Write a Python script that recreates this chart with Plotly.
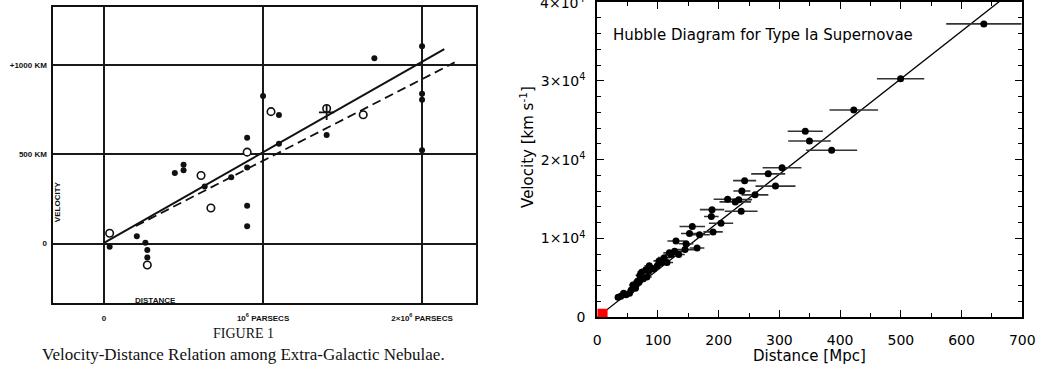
import plotly.graph_objects as go

# ---------------- Left panel: Hubble (1929) ----------------
hub_filled_d = [0.035, 0.206, 0.26, 0.272, 0.272, 0.445, 0.50, 0.50, 0.633, 0.80, 0.90, 0.90, 0.90, 0.90,
                1.00, 1.10, 1.10, 1.40, 1.70, 2.00, 2.00, 2.00, 2.00]
hub_filled_v = [-18, 41, 5, -35, -78, 396, 442, 411, 320, 372, 594, 427, 213, 98,
                827, 721, 560, 609, 1039, 1107, 840, 807, 523]
hub_open_d = [0.035, 0.272, 0.61, 0.672, 0.90, 1.05, 1.40, 1.63]
hub_open_v = [58, -120, 382, 200, 513, 740, 758, 723]
hub_cross_d = [1.40]
hub_cross_v = [736]
hub_solid_d = [0.0, 2.14]
hub_solid_v = [5, 1090]
hub_dash_d = [0.20, 2.205]
hub_dash_v = [99, 1016]
hub_xticks = [0, 1, 2]
hub_xlabels = ["0", "10<sup>6</sup> PARSECS", "2\u00d710<sup>6</sup> PARSECS"]
hub_yticks = [0, 500, 1000]
hub_ylabels = ["0", "500 KM", "+1000 KM"]

# ---------------- Right panel: Type Ia supernovae ----------------
sn_dist = [636.7, 499.6, 422.5, 342.6, 349.5, 386.0, 304.3, 281.5, 293.5, 242.7, 238.1, 259.8,
           214.7, 233.0, 227.3, 237.0, 189.0, 187.9, 203.8, 190.7, 156.5, 151.9, 168.4, 164.4,
           129.6, 146.2, 144.5, 134.2, 127.3,
           34.3, 38.8, 43.4, 47.4, 53.1, 56.0, 58.8, 60.5, 62.8, 64.5, 66.2, 68.5, 70.2, 73.1,
           75.9, 80.0, 81.7, 84.5, 85.7, 93.1, 98.8, 101.6, 106.2, 110.2, 114.8, 118.8, 121.6]
sn_vel = [37220, 30270, 26300, 23600, 22370, 21190, 18980, 18200, 16650, 17340, 16030, 15540,
          14970, 14930, 14640, 13460, 13660, 12800, 11940, 10840, 11530, 10630, 10470, 8790,
          9690, 9330, 8590, 7980, 8380,
          2540, 2660, 3070, 2860, 3070, 3480, 4090, 3890, 3680, 4170, 4580, 4420, 5320, 5730,
          4910, 6050, 5110, 5810, 6540, 6140, 6540, 7160, 6950, 7570, 6950, 8180, 7980]
sn_err = [62, 39, 40, 29, 35, 42, 32, 28, 33, 19, 14, 22,
          23, 22, 26, 27, 20, 12, 20, 16, 21, 14, 17, 12,
          14, 12, 15, 10, 11,
          5, 5, 5, 5, 6, 6, 6, 6, 6, 6, 7, 7, 7, 7,
          7, 8, 8, 8, 8, 9, 9, 9, 10, 10, 10, 10, 10]
sn_fit_d = [0, 700]
H0 = 60.5
sn_xticks = [0, 100, 200, 300, 400, 500, 600, 700]
sn_yticks = [0, 10000, 20000, 30000, 40000]
sn_ylabels = ["0", "1\u00d710<sup>4</sup>", "2\u00d710<sup>4</sup>", "3\u00d710<sup>4</sup>", "4\u00d710<sup>4</sup>"]
red_box = [17, 1100]

W, H = 1053, 374
fig = go.Figure()

# Hubble lines
fig.add_trace(go.Scatter(x=hub_solid_d, y=hub_solid_v, mode="lines", line=dict(color="#111", width=2),
                         xaxis="x", yaxis="y", showlegend=False))
fig.add_trace(go.Scatter(x=hub_dash_d, y=hub_dash_v, mode="lines",
                         line=dict(color="#111", width=1.8, dash="9px,5px"),
                         xaxis="x", yaxis="y", showlegend=False))
fig.add_trace(go.Scatter(x=hub_filled_d, y=hub_filled_v, mode="markers",
                         marker=dict(color="#111", size=6), xaxis="x", yaxis="y", showlegend=False))
fig.add_trace(go.Scatter(x=hub_open_d, y=hub_open_v, mode="markers",
                         marker=dict(color="white", size=7.5, line=dict(color="#111", width=1.6)),
                         xaxis="x", yaxis="y", showlegend=False))
fig.add_trace(go.Scatter(x=hub_cross_d, y=hub_cross_v, mode="markers",
                         marker=dict(symbol="cross-thin", size=11, line=dict(color="#111", width=1.8)),
                         xaxis="x", yaxis="y", showlegend=False))

# SN fit line and data
fig.add_trace(go.Scatter(x=sn_fit_d, y=[H0 * d for d in sn_fit_d], mode="lines",
                         line=dict(color="black", width=1.3), xaxis="x2", yaxis="y2", showlegend=False))
fig.add_trace(go.Scatter(x=sn_dist, y=sn_vel, mode="markers",
                         error_x=dict(type="data", array=sn_err, color="#333", thickness=1.6, width=0),
                         marker=dict(color="black", size=7),
                         xaxis="x2", yaxis="y2", showlegend=False, cliponaxis=True))

fig.add_shape(type="rect", xref="x2", yref="y2", x0=0, x1=red_box[0], y0=0, y1=red_box[1],
              fillcolor="red", line=dict(width=0), layer="above")

left_font = dict(family="Liberation Sans", size=8, color="#111", weight="bold")
sn_font = dict(family="DejaVu Sans", size=14, color="black")
title_font = dict(family="DejaVu Sans", size=15, color="black")

fig.update_layout(
    width=W, height=H, margin=dict(l=0, r=0, t=0, b=0),
    paper_bgcolor="white", plot_bgcolor="white",
    xaxis=dict(domain=[49.3 / W, 479.3 / W], range=[-0.3243, 2.3366], anchor="y",
               tickvals=hub_xticks, ticktext=hub_xlabels, tickfont=left_font, ticks="",
               ticklabelstandoff=6,
               showgrid=True, gridcolor="#1a1a1a", gridwidth=1.5, zeroline=False,
               showline=True, linecolor="#111", linewidth=2, mirror=True),
    yaxis=dict(domain=[1 - 309.3 / H, 1 - 4.7 / H], range=[-332.8, 1329], anchor="x",
               tickvals=hub_yticks, ticktext=hub_ylabels, tickfont=left_font, ticks="",
               ticklabelstandoff=2,
               showgrid=True, gridcolor="#1a1a1a", gridwidth=1.5, zeroline=False,
               showline=True, linecolor="#111", linewidth=2, mirror=True),
    xaxis2=dict(domain=[603 / W, 1035 / W], range=[0, 700], anchor="y2",
                tickvals=sn_xticks, tickfont=sn_font, ticks="inside", ticklen=7, tickwidth=1.3,
                tickcolor="black", ticklabelstandoff=9,
                minor=dict(dtick=50, ticks="inside", ticklen=4, tickwidth=1.3, tickcolor="black"),
                showgrid=False, zeroline=False,
                showline=True, linecolor="black", linewidth=2, mirror="ticks"),
    yaxis2=dict(domain=[1 - 324 / H, 1.0], range=[0, 40000], anchor="x2",
                tickvals=sn_yticks[:-1], ticktext=sn_ylabels[:-1], tickfont=sn_font, ticks="inside", ticklen=7,
                tickwidth=1.3, tickcolor="black", ticklabelstandoff=7,
                minor=dict(dtick=2000, ticks="inside", ticklen=4, tickwidth=1.3, tickcolor="black"),
                showgrid=False, zeroline=False,
                showline=True, linecolor="black", linewidth=2, mirror="ticks"),
)

def A(text, x, y, font, angle=0, xanchor="center"):
    return dict(text=text, x=x / W, y=1 - y / H, xref="paper", yref="paper", textangle=angle,
                showarrow=False, font=font, xanchor=xanchor, yanchor="middle")

ann = [
    A("VELOCITY", 54.5, 205, left_font, -90),
    A("DISTANCE", 154, 306.5, left_font),
    A("FIGURE 1", 243.7, 340.5, dict(family="Liberation Serif", size=14, color="#111")),
    A("Velocity-Distance Relation among Extra-Galactic Nebulae.", 243.5, 362,
      dict(family="Liberation Serif", size=17, color="#111")),
    A("Hubble Diagram for Type Ia Supernovae", 771.7, 34.3, dict(family="DejaVu Sans", size=15, color="black")),
    A("Distance [Mpc]", 819, 364, title_font),
    A("Velocity [km s<sup>-1</sup>]", 531, 148.5, title_font, -90),
    A(sn_ylabels[-1], 593, 0, sn_font, 0, "right"),
]
fig.update_layout(annotations=ann)

fig.write_html("out.html")
